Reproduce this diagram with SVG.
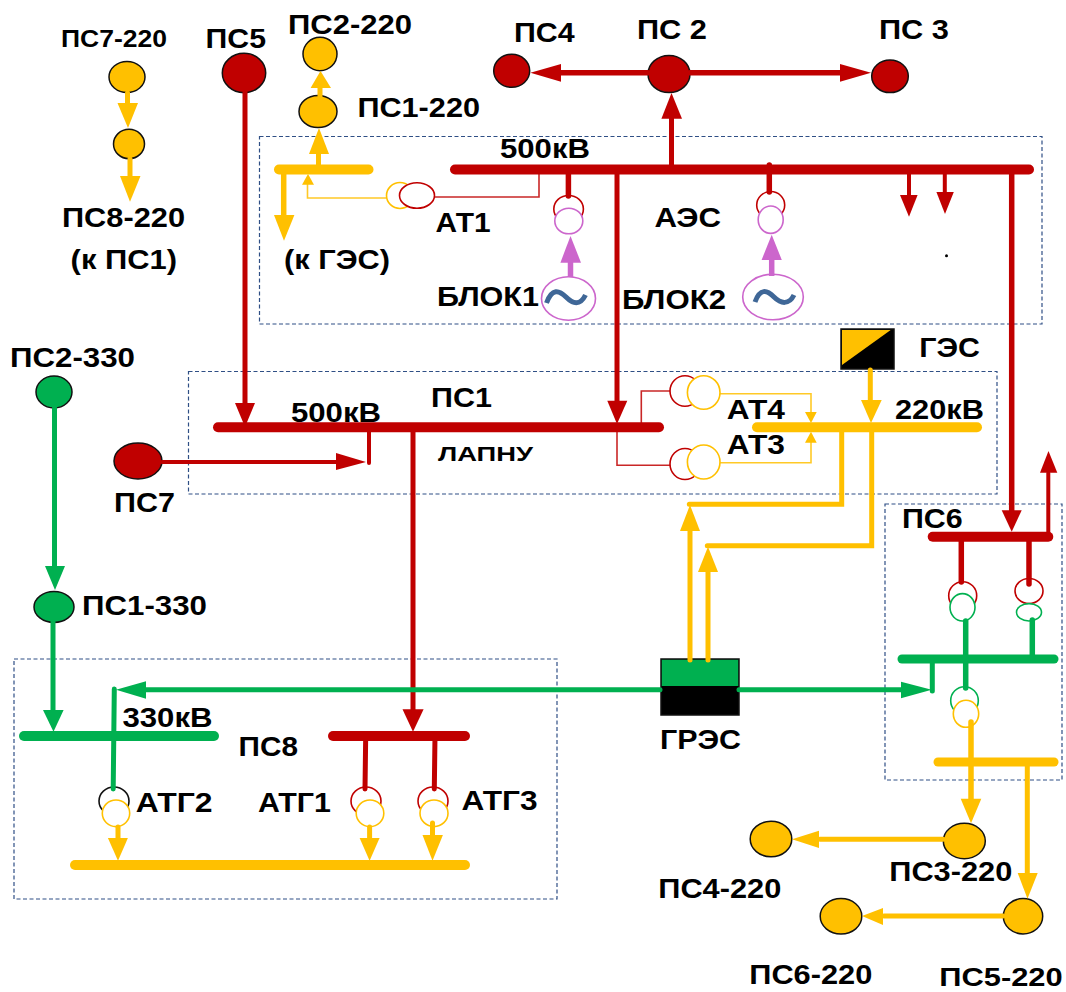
<svg xmlns="http://www.w3.org/2000/svg" width="1066" height="992" viewBox="0 0 1066 992">
<style>
.bg{fill:#fff}
.zone{fill:none;stroke:#2f4f85;stroke-width:1.2;stroke-dasharray:4 2.5}
.ny{fill:#FFC000;stroke:#111;stroke-width:1.5}
.nr{fill:#C00000;stroke:#111;stroke-width:1.5}
.ng{fill:#00B050;stroke:#111;stroke-width:1.5}
.tr{fill:#fff;stroke:#C00000;stroke-width:1.6}
.ty{fill:#fff;stroke:#FFC000;stroke-width:1.6}
.tg{fill:#fff;stroke:#00B050;stroke-width:1.6}
.tp{fill:#fff;stroke:#CC66CC;stroke-width:1.6}
.tk{fill:#fff;stroke:#111;stroke-width:1.6}
.tilde{fill:none;stroke:#3F6797;stroke-width:5}
.r,.y,.g,.p{fill:none;stroke-linecap:round;stroke-linejoin:miter}
.r{stroke:#C00000}.y{stroke:#FFC000}.g{stroke:#00B050}.p{stroke:#CC66CC;stroke-linecap:butt}
.w10{stroke-width:10}.w9{stroke-width:9}.w5{stroke-width:5.5}.w4{stroke-width:5}.w3{stroke-width:4}
.thin{stroke-width:1.6;stroke-linecap:butt;opacity:.85}
.hr{fill:#C00000}.hy{fill:#FFC000}.hg{fill:#00B050}.hp{fill:#CC66CC}
text{font-family:"Liberation Sans",Arial,sans-serif;font-weight:700;fill:#000;font-size:27px}
.s22{font-size:24px}.s18{font-size:20px}
</style>
<rect class="bg" width="1066" height="992"/>
<g id="zones">
<rect class="zone" x="259.5" y="136.5" width="782.5" height="187.5"/>
<rect class="zone" x="188.5" y="371.5" width="808.5" height="122.5"/>
<rect class="zone" x="885" y="504" width="177" height="276"/>
<rect class="zone" x="14" y="659" width="543" height="240"/>
</g>
<g id="node-ps7-220"><ellipse class="ny" cx="127" cy="77" rx="18" ry="15.5"/></g>
<g id="node-ps8-220"><ellipse class="ny" cx="129" cy="144" rx="15.5" ry="14.7"/></g>
<g id="node-ps5"><ellipse class="nr" cx="244" cy="73" rx="21.7" ry="19.7"/></g>
<g id="node-ps2-220"><ellipse class="ny" cx="320" cy="54" rx="17" ry="16.7"/></g>
<g id="node-ps1-220"><ellipse class="ny" cx="318" cy="111.5" rx="19" ry="16"/></g>
<g id="node-ps4"><ellipse class="nr" cx="511.7" cy="70.8" rx="18" ry="16.5"/></g>
<g id="node-ps2"><ellipse class="nr" cx="669" cy="74" rx="21" ry="18.5"/></g>
<g id="node-ps3"><ellipse class="nr" cx="890" cy="76.3" rx="18.3" ry="16.3"/></g>
<g id="node-at1"><ellipse class="ty" cx="400" cy="195.5" rx="13.5" ry="13"/><ellipse class="tr" cx="417" cy="195.5" rx="17.5" ry="12.7"/></g>
<g id="node-tr-blok1"><ellipse class="tr" cx="568.6" cy="209" rx="14.8" ry="13.5"/><ellipse class="tp" cx="568.8" cy="221" rx="14" ry="12.8"/></g>
<g id="node-tr-blok2"><ellipse class="tr" cx="770.7" cy="205" rx="14" ry="13.5"/><ellipse class="tp" cx="770.7" cy="219.7" rx="12.5" ry="13.7"/></g>
<g id="node-gen1"><ellipse class="tp" cx="568.5" cy="298.5" rx="27" ry="21.7"/><path class="tilde" d="M546.5 303C552 288 559 290 566 297C573 304 580 306 585.5 295"/></g>
<g id="node-gen2"><ellipse class="tp" cx="773" cy="297" rx="30.3" ry="22.8"/><path class="tilde" d="M755 302C760 288 767 290 774 297C781 304 789 305 794 295"/></g>
<g id="node-ges"><rect x="841" y="329" width="53" height="40" fill="#000" stroke="#111" stroke-width="1.5"/><polygon points="842,330 890.7,330 842,365" fill="#FFC000"/></g>
<g id="node-ps2-330"><ellipse class="ng" cx="54" cy="392" rx="18" ry="16"/></g>
<g id="node-ps1-330"><ellipse class="ng" cx="54" cy="607" rx="20" ry="15.5"/></g>
<g id="node-ps7"><ellipse class="nr" cx="138" cy="461" rx="24" ry="18"/></g>
<g id="node-at4"><ellipse class="tr" cx="685" cy="391" rx="15" ry="15.2"/><ellipse class="ty" cx="703.7" cy="392.5" rx="16.3" ry="16.8"/></g>
<g id="node-at3"><ellipse class="tr" cx="685" cy="464" rx="15" ry="15.5"/><ellipse class="ty" cx="703.7" cy="462" rx="16.3" ry="17"/></g>
<g id="node-gres"><rect x="661" y="659" width="78" height="56" fill="#000" stroke="#111" stroke-width="1.5"/><rect x="661.8" y="659.8" width="76.4" height="26.2" fill="#00B050"/></g>
<g id="node-tr-ps6a"><ellipse class="tr" cx="962.7" cy="595.7" rx="14" ry="14"/><ellipse class="tg" cx="962.5" cy="607.3" rx="12.5" ry="13.7"/></g>
<g id="node-tr-ps6b"><ellipse class="tr" cx="1029" cy="591" rx="14" ry="12.5"/><ellipse class="tg" cx="1029" cy="612.3" rx="12.5" ry="8.7"/></g>
<g id="node-tr-ps6c"><ellipse class="tg" cx="964.5" cy="700.7" rx="13.8" ry="14"/><ellipse class="ty" cx="966" cy="713.8" rx="12.7" ry="13.5"/></g>
<g id="node-atg2"><ellipse class="tk" cx="114" cy="801" rx="15" ry="14"/><ellipse class="ty" cx="116" cy="813.3" rx="13.7" ry="13.3"/></g>
<g id="node-atg1"><ellipse class="tr" cx="366" cy="801" rx="15" ry="14"/><ellipse class="ty" cx="370" cy="813.3" rx="13.8" ry="13.3"/></g>
<g id="node-atg3"><ellipse class="tr" cx="433" cy="801" rx="15" ry="14"/><ellipse class="ty" cx="434" cy="813.3" rx="14" ry="13.3"/></g>
<g id="node-ps3-220"><ellipse class="ny" cx="964.3" cy="841" rx="21" ry="17.7"/></g>
<g id="node-ps4-220"><ellipse class="ny" cx="771" cy="839" rx="20.8" ry="17.8"/></g>
<g id="node-ps5-220"><ellipse class="ny" cx="1023" cy="916.3" rx="19.7" ry="17.7"/></g>
<g id="node-ps6-220"><ellipse class="ny" cx="841" cy="916.3" rx="20.8" ry="17.7"/></g>
<g id="connectors">
<path class="y w10" d="M279 169.5H368.5"/>
<path class="r w10" d="M455 169.5H1029"/>
<path class="r w10" d="M218 427.3H659"/>
<path class="y w10" d="M757 427.3H977"/>
<path class="r w10" d="M932.7 536.7H1048.3"/>
<path class="g w9" d="M902 659H1054"/>
<path class="y w9" d="M938 762H1054"/>
<path class="g w10" d="M24 736H214"/>
<path class="r w10" d="M333 736H465"/>
<path class="y w10" d="M75 865H465"/>
<path class="y w4" d="M127.5 93V104"/><polygon class="hy" points="117.5,103 138,103 128,128"/>
<path class="y w4" d="M130 159V177"/><polygon class="hy" points="120,176 140.5,176 130,201.7"/>
<path class="y w4" d="M320 96V88"/><polygon class="hy" points="310.6,88 331,88 320.5,71"/>
<path class="y w4" d="M318.5 165V154"/><polygon class="hy" points="309,154 329,154 319,128"/>
<path class="y w5" d="M283.7 170V216"/><polygon class="hy" points="274,215 294.4,215 284,240.7"/>
<path class="y thin" d="M386 198H307.5V184"/><polygon class="hy" points="302,184.7 314,184.7 308,174"/>
<path class="r thin" d="M434.5 197H539V174"/>
<path class="r w4" d="M245 92V404"/><polygon class="hr" points="235,403 255,403 245,427"/>
<path class="r w5" d="M648 72.7H561"/><polygon class="hr" points="561,64 561,81.7 530.4,72.7"/>
<path class="r w5" d="M690 72.7H841"/><polygon class="hr" points="840,64 840,81.7 871,72.7"/>
<path class="r w4" d="M671.5 169V118"/><polygon class="hr" points="661.4,118.7 682,118.7 671.5,93"/>
<path class="r w5" d="M568.4 169V196"/>
<path class="r w5" d="M769.3 165V192"/>
<path class="p w5" d="M570.5 277V262"/><polygon class="hp" points="560.4,262.7 581,262.7 570.5,236"/>
<path class="p w5" d="M771.7 276V260"/><polygon class="hp" points="761.6,260 781.8,260 771.7,234.7"/>
<path class="r w3" d="M909 174V196"/><polygon class="hr" points="900,195 917.6,195 909,216.7"/>
<path class="r w3" d="M944.8 174V193"/><polygon class="hr" points="936.4,192 953.8,192 945,214"/>
<path class="r w4" d="M617 169V402"/><polygon class="hr" points="607.3,400.7 627.3,400.7 617,424"/>
<path class="r w5" d="M1011.7 169V511"/><polygon class="hr" points="1001.7,510.3 1021.7,510.3 1011.7,531.7"/>
<path class="y w4" d="M870.3 370V401"/><polygon class="hy" points="861,400 881.7,400 871,423"/>
<path class="r thin" d="M641.3 424V391H670"/>
<path class="r thin" d="M617 430V465.3H670"/>
<path class="y thin" d="M720 393.7H811V412"/><polygon class="hy" points="805,412 816.7,412 811,423"/>
<path class="y thin" d="M720 462.7H811V442"/><polygon class="hy" points="805,442.7 816.7,442.7 811,431.7"/>
<path class="y w4" d="M841.7 427V504.3H689.3"/>
<path class="y w4" d="M871.7 427V545.7H707.3"/>
<path class="y w4" d="M690 660V531"/><polygon class="hy" points="680,531 700,531 690,505"/>
<path class="y w4" d="M708 660V572"/><polygon class="hy" points="698,572 718,572 708,546.7"/>
<path class="r w3" d="M162 462H337"/><polygon class="hr" points="336,453 336,470 366,462"/>
<path class="r w3" d="M369 427V463"/>
<path class="r w4" d="M413 427V710"/><polygon class="hr" points="402.5,709.3 423.6,709.3 413,731.7"/>
<path class="g w4" d="M54.5 408V567"/><polygon class="hg" points="45,566 65,566 55,590"/>
<path class="g w4" d="M53 622V711"/><polygon class="hg" points="43,710 63.6,710 53.5,731.7"/>
<path class="g w4" d="M660 689.7H146"/><polygon class="hg" points="146,681.3 146,698.7 116,689.7"/>
<path class="g w4" d="M114.3 689L113.2 789"/>
<path class="g w4" d="M739 689.7H902"/><polygon class="hg" points="901,681.7 901,698.3 931.7,689.7"/>
<path class="g w4" d="M932.3 659V691"/>
<path class="g w5" d="M965.7 621V688"/>
<path class="g w5" d="M1032.3 620V658"/>
<path class="r w3" d="M1048.3 537V473"/><polygon class="hr" points="1040,472.7 1057.3,472.7 1048.5,451"/>
<path class="r w5" d="M961.3 537V582"/>
<path class="r w5" d="M1029 537V584"/>
<path class="y w5" d="M971 722V799"/><polygon class="hy" points="960.7,798.7 981.3,798.7 971,823.3"/>
<path class="y w4" d="M1027.3 762V874"/><polygon class="hy" points="1017.7,873 1037.7,873 1027.5,898.7"/>
<path class="y w4" d="M943 839.3H820"/><polygon class="hy" points="819,830.7 819,848 792,839.3"/>
<path class="y w4" d="M1003 916H884"/><polygon class="hy" points="883,908 883,925 862,916"/>
<path class="r w4" d="M365.7 736L365 789"/>
<path class="r w4" d="M435 736L434.3 789"/>
<path class="y w4" d="M118 827V839"/><polygon class="hy" points="107.9,838 127.9,838 118,860.7"/>
<path class="y w4" d="M369.6 827V839"/><polygon class="hy" points="359.6,838 379.6,838 369.6,860.7"/>
<path class="y w4" d="M432.5 823V836"/><polygon class="hy" points="422.5,835 442.9,835 432.5,860.7"/>
</g>
<circle cx="946.5" cy="255.7" r="1.5" fill="#000"/>
<g id="labels">
<text class="s22" x="61" y="47" textLength="106" lengthAdjust="spacingAndGlyphs">ПС7-220</text>
<text x="62" y="226.7" textLength="123" lengthAdjust="spacingAndGlyphs">ПС8-220</text>
<text x="70.6" y="269" textLength="106.4" lengthAdjust="spacingAndGlyphs">(к ПС1)</text>
<text x="205.6" y="48" textLength="60.4" lengthAdjust="spacingAndGlyphs">ПС5</text>
<text x="288" y="34" textLength="124" lengthAdjust="spacingAndGlyphs">ПС2-220</text>
<text x="357.4" y="117" textLength="122.6" lengthAdjust="spacingAndGlyphs">ПС1-220</text>
<text x="500" y="157.7" textLength="90" lengthAdjust="spacingAndGlyphs">500кВ</text>
<text x="435.6" y="231.7" textLength="55" lengthAdjust="spacingAndGlyphs">АТ1</text>
<text x="284" y="269" textLength="106" lengthAdjust="spacingAndGlyphs">(к ГЭС)</text>
<text x="437" y="306" textLength="102" lengthAdjust="spacingAndGlyphs">БЛОК1</text>
<text x="514" y="41.7" textLength="60.7" lengthAdjust="spacingAndGlyphs">ПС4</text>
<text x="637" y="39" textLength="70" lengthAdjust="spacingAndGlyphs">ПС 2</text>
<text x="879" y="39" textLength="70" lengthAdjust="spacingAndGlyphs">ПС 3</text>
<text x="654.4" y="226.7" textLength="66.6" lengthAdjust="spacingAndGlyphs">АЭС</text>
<text x="622" y="309.3" textLength="104" lengthAdjust="spacingAndGlyphs">БЛОК2</text>
<text x="919.3" y="356.7" textLength="60.7" lengthAdjust="spacingAndGlyphs">ГЭС</text>
<text x="895" y="419" textLength="89" lengthAdjust="spacingAndGlyphs">220кВ</text>
<text x="726.7" y="419" textLength="58.3" lengthAdjust="spacingAndGlyphs">АТ4</text>
<text x="726.7" y="454" textLength="58.3" lengthAdjust="spacingAndGlyphs">АТ3</text>
<text x="902" y="528.3" textLength="60.7" lengthAdjust="spacingAndGlyphs">ПС6</text>
<text x="660" y="749.3" textLength="81" lengthAdjust="spacingAndGlyphs">ГРЭС</text>
<text x="889.3" y="881" textLength="123" lengthAdjust="spacingAndGlyphs">ПС3-220</text>
<text x="658.3" y="897.7" textLength="123" lengthAdjust="spacingAndGlyphs">ПС4-220</text>
<text x="749.3" y="984.3" textLength="123" lengthAdjust="spacingAndGlyphs">ПС6-220</text>
<text x="939.3" y="985.5" style="font-size:25px" textLength="123.4" lengthAdjust="spacingAndGlyphs">ПС5-220</text>
<text x="122.5" y="727.3" textLength="90" lengthAdjust="spacingAndGlyphs">330кВ</text>
<text x="238.6" y="756" textLength="59.4" lengthAdjust="spacingAndGlyphs">ПС8</text>
<text x="135.7" y="811.7" textLength="76.8" lengthAdjust="spacingAndGlyphs">АТГ2</text>
<text x="257.9" y="811.7" textLength="73.1" lengthAdjust="spacingAndGlyphs">АТГ1</text>
<text x="461.4" y="810.3" textLength="76.1" lengthAdjust="spacingAndGlyphs">АТГ3</text>
<text x="10" y="367" textLength="125" lengthAdjust="spacingAndGlyphs">ПС2-330</text>
<text x="82" y="615" textLength="125" lengthAdjust="spacingAndGlyphs">ПС1-330</text>
<text x="114" y="512" textLength="61" lengthAdjust="spacingAndGlyphs">ПС7</text>
<text x="291" y="422" textLength="90" lengthAdjust="spacingAndGlyphs">500кВ</text>
<text x="431" y="407" textLength="61" lengthAdjust="spacingAndGlyphs">ПС1</text>
<text class="s18" x="438" y="461" textLength="95" lengthAdjust="spacingAndGlyphs">ЛАПНУ</text>
</g>
</svg>
